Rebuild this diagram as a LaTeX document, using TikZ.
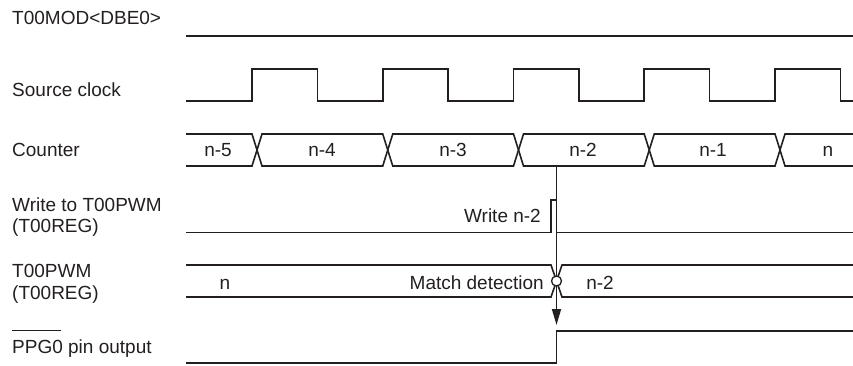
\documentclass[tikz,border=0pt]{standalone}
\usepackage{fontspec}
\setmainfont{Liberation Sans}
\usetikzlibrary{arrows.meta}
\definecolor{ink}{HTML}{231F20}
\newcommand{\lblfont}{\fontsize{19}{21}\selectfont}
\begin{document}
\begin{tikzpicture}[x=1pt,y=-1pt,
  wave/.style={draw=ink,line width=1.6pt,line join=miter},
  lbl/.style={anchor=base west,inner sep=0pt,text=ink,font=\lblfont},
  val/.style={anchor=base,inner sep=0pt,text=ink,font=\lblfont},
  vale/.style={anchor=base east,inner sep=0pt,text=ink,font=\lblfont}]
\useasboundingbox (0,0) rectangle (853,365);
% signal names
\node[lbl] (lmod) at (12,24) {T00MOD<DBE0>};
\node[lbl] (lclk) at (12,96) {Source clock};
\node[lbl] (lcnt) at (12,156.5) {Counter};
\node[lbl] (lwr1) at (12,211.5) {Write to T00PWM};
\node[lbl] (lwr2) at (12,232.5) {(T00REG)};
\node[lbl] (lpwm1) at (12,277) {T00PWM};
\node[lbl] (lpwm2) at (12,299) {(T00REG)};
\node[lbl] (lppg) at (12,353) {PPG0 pin output};
\draw[wave,line width=1.3pt] (12,330.7) -- (61,330.7);
% T00MOD<DBE0>
\draw[wave] (186,36) -- (853,36);
% source clock
\draw[wave] (186,101) -| (252,69) -| (317.4,101) -| (382.75,69) -| (448.1,101)
  -| (513.5,69) -| (578.9,101) -| (644.25,69) -| (709.6,101) -| (775,69)
  -| (840.4,101) -- (853,101);
% counter
\draw[wave] (186,134) -- (252,134) -- (262,166) -- (382.75,166) -- (392.75,134)
  -- (513.5,134) -- (523.5,166) -- (644.25,166) -- (654.25,134) -- (775,134)
  -- (785,166) -- (853,166);
\draw[wave] (186,166) -- (252,166) -- (262,134) -- (382.75,134) -- (392.75,166)
  -- (513.5,166) -- (523.5,134) -- (644.25,134) -- (654.25,166) -- (775,166)
  -- (785,134) -- (853,134);
\node[val] (c5) at (218,156.5) {n-5};
\node[val] (c4) at (322,156.5) {n-4};
\node[val] (c3) at (453,156.5) {n-3};
\node[val] (c2) at (583,156.5) {n-2};
\node[val] (c1) at (713,156.5) {n-1};
\node[val] (c0) at (828,156.5) {n};
% write to T00PWM
\draw[wave] (186,232.3) -- (551,232.3) -- (551,200) -- (556.5,200) -- (556.5,232.3) -- (853,232.3);
\node[vale] (wlab) at (541,222.7) {Write n-2};
% T00PWM
\draw[wave] (186,265) -- (551,265) -- (562,297) -- (853,297);
\draw[wave] (186,297) -- (551,297) -- (562,265) -- (853,265);
\node[val] (p0) at (225,289) {n};
\node[vale] (mlab) at (544,289) {Match detection};
\node[val] (p2) at (600,289) {n-2};
% match arrow
\coordinate (src) at (556.5,166);
\coordinate (tip) at (556.5,325);
\draw[wave,-{Triangle[length=16pt,width=9pt]}] (src) -- (tip);
\node[circle,draw=ink,fill=white,line width=1.3pt,minimum size=10pt,inner sep=0pt] (match) at (556.5,281) {};
% PPG0 output
\draw[wave] (186,363) -- (556.5,363) -- (556.5,331) -- (853,331);
\end{tikzpicture}
\end{document}
